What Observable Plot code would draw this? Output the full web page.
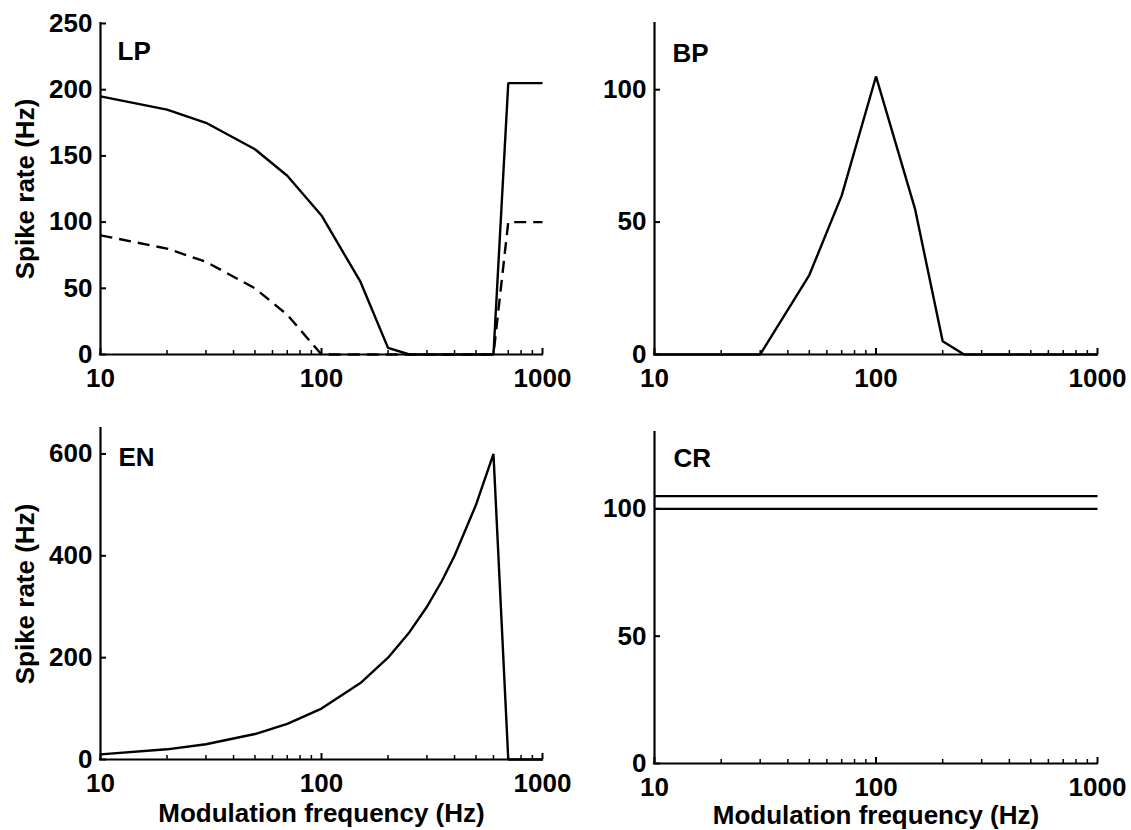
<!DOCTYPE html>
<html><head><meta charset="utf-8">
<script src="https://cdn.jsdelivr.net/npm/d3@7"></script>
<script src="https://cdn.jsdelivr.net/npm/@observablehq/plot@0.6"></script>
<style>
body{margin:0;background:#fff;}
#fig{position:relative;width:1131px;height:830px;background:#fff;overflow:hidden;}
</style></head><body><div id="fig"></div>
<script>
// ---- data ----
const xTicks = [10, 100, 1000];
const xMinor = [20, 30, 40, 50, 60, 70, 80, 90, 200, 300, 400, 500, 600, 700, 800, 900];

const lpFreq   = [10, 20, 30, 50, 70, 100, 150, 200, 250, 600, 700, 1000];
const lpSolid  = [195, 185, 175, 155, 135, 105, 55, 5, 0, 0, 205, 205];
const lpDashed = [90, 80, 70, 50, 30, 0, 0, 0, 0, 0, 100, 100];
const lpTicks  = [0, 50, 100, 150, 200, 250];

const bpFreq  = [10, 20, 30, 50, 70, 100, 150, 200, 250, 1000];
const bpRate  = [0, 0, 0, 30, 60, 105, 55, 5, 0, 0];
const bpTicks = [0, 50, 100];

const enFreq  = [10, 20, 30, 50, 70, 100, 150, 200, 250, 300, 350, 400, 500, 600, 700, 1000];
const enRate  = [10, 20, 30, 50, 70, 100, 150, 200, 250, 300, 350, 400, 500, 600, 0, 0];
const enTicks = [0, 200, 400, 600];

const crFreq  = [10, 1000];
const crUpper = [105, 105];
const crLower = [100, 100];
const crTicks = [0, 50, 100];

const panelNames = ["LP", "BP", "EN", "CR"];
const yTitle = "Spike rate (Hz)";
const xTitle = "Modulation frequency (Hz)";

// ---- drawing ----
const FONT = '"Liberation Sans", Arial, Helvetica, sans-serif';
const pts = (f, v) => f.map((x, i) => ({f: x, r: v[i]}));
const fig = document.getElementById("fig");

function panel(o) {
  const plotW = o.width - o.ml - o.mr, plotH = o.height - o.mt - o.mb;
  const txt = {fontSize: 26, fontWeight: "bold", fill: "black"};
  const marks = [
    Plot.tickX(xMinor, {x: d => d, stroke: "black", strokeWidth: 1.5, insetTop: plotH - 4}),
    Plot.tickX(xTicks, {x: d => d, stroke: "black", strokeWidth: 2, insetTop: plotH - 6}),
    Plot.tickY(o.yTicks, {y: d => d, stroke: "black", strokeWidth: 2, insetRight: plotW - 6}),
    Plot.ruleY([0], {stroke: "black", strokeWidth: 2.2, strokeLinecap: "square"}),
    Plot.ruleX([10], {stroke: "black", strokeWidth: 2.2, strokeLinecap: "square"}),
    Plot.axisX(xTicks, {tickSize: 0, tickPadding: 14, tickFormat: d => String(d), label: null, ...txt}),
    Plot.axisY(o.yTicks, {tickSize: 0, tickPadding: 8, tickFormat: d => String(d), label: null, ...txt}),
    ...o.lines.map(l => Plot.line(l.data, {x: "f", y: "r", stroke: "black", strokeWidth: 2.4,
      strokeDasharray: l.dash, strokeLinejoin: "miter", strokeLinecap: "butt"})),
    Plot.text([o.name], {frameAnchor: "top-left", text: d => d, textAnchor: "start", lineAnchor: "top",
      dx: o.ldx, dy: o.ldy, ...txt})
  ];
  if (o.ylab) marks.push(Plot.text([yTitle], {frameAnchor: "left", text: d => d, rotate: -90, dx: -67,
    textAnchor: "middle", lineAnchor: "bottom", ...txt}));
  if (o.xlab) marks.push(Plot.text([xTitle], {frameAnchor: "bottom", text: d => d, dy: o.xdy,
    textAnchor: "middle", lineAnchor: "top", ...txt}));
  const svg = Plot.plot({
    width: o.width, height: o.height,
    marginLeft: o.ml, marginRight: o.mr, marginTop: o.mt, marginBottom: o.mb,
    x: {type: "log", domain: [10, 1000], label: null},
    y: {domain: o.yDomain, label: null},
    style: {position: "absolute", left: o.left + "px", top: o.top + "px", background: "none",
      overflow: "visible", fontFamily: FONT, fontSize: "26px", fontWeight: "bold", color: "black"},
    marks
  });
  fig.appendChild(svg);
}

panel({left: 0, top: 0, width: 565, height: 400, ml: 100, mr: 23, mt: 23, mb: 46,
  yDomain: [0, 250], yTicks: lpTicks, name: panelNames[0], ldx: 17, ldy: 18, ylab: true,
  lines: [{data: pts(lpFreq, lpSolid)}, {data: pts(lpFreq, lpDashed), dash: "12,7"}]});
panel({left: 565, top: 0, width: 566, height: 400, ml: 89, mr: 34, mt: 23, mb: 46,
  yDomain: [0, 125], yTicks: bpTicks, name: panelNames[1], ldx: 18, ldy: 20,
  lines: [{data: pts(bpFreq, bpRate)}]});
panel({left: 0, top: 400, width: 565, height: 430, ml: 100, mr: 23, mt: 28, mb: 71,
  yDomain: [0, 650], yTicks: enTicks, name: panelNames[2], ldx: 18, ldy: 19, ylab: true, xlab: true, xdy: 44,
  lines: [{data: pts(enFreq, enRate)}]});
panel({left: 565, top: 400, width: 566, height: 430, ml: 89, mr: 34, mt: 32, mb: 67,
  yDomain: [0, 130], yTicks: crTicks, name: panelNames[3], ldx: 19, ldy: 16, xlab: true, xdy: 42,
  lines: [{data: pts(crFreq, crUpper)}, {data: pts(crFreq, crLower)}]});
</script></body></html>
